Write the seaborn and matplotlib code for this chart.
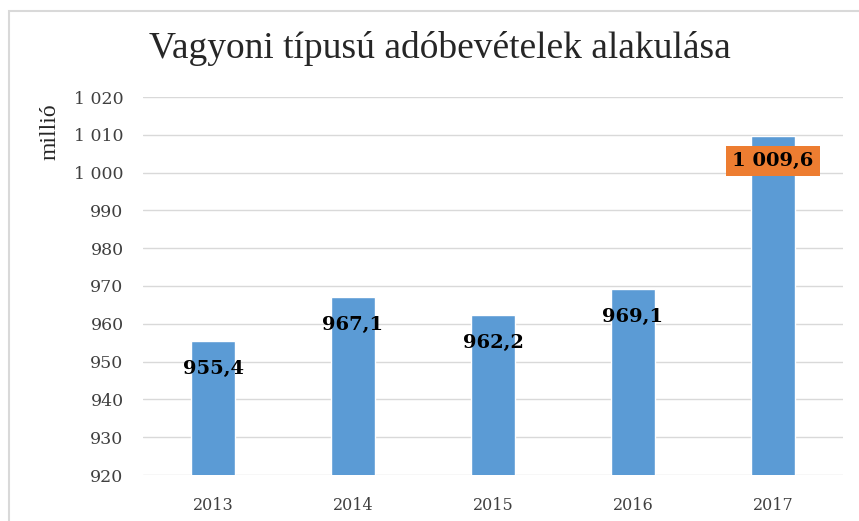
import matplotlib
matplotlib.use("Agg")
import matplotlib.pyplot as plt
import seaborn as sns
import pandas as pd
from matplotlib.patches import Rectangle

# data
years = ["2013", "2014", "2015", "2016", "2017"]
values = [955.4, 967.1, 962.2, 969.1, 1009.6]
yticks = [920, 930, 940, 950, 960, 970, 980, 990, 1000, 1010, 1020]

df = pd.DataFrame({"ev": years, "ertek": values})

sns.set_style("white")
plt.rcParams["font.family"] = ["Liberation Serif", "DejaVu Serif"]

fig = plt.figure(figsize=(8.59, 5.21), dpi=100)
ax = fig.add_axes([143 / 859, 46 / 521, 700 / 859, 378 / 521])

# light frame around the chart
fig.patches.append(Rectangle((9 / 859, -0.05), 1.2, 1.05 - 11 / 521,
                             transform=fig.transFigure, fill=False,
                             edgecolor="#d9d9d9", linewidth=1.5))

sns.barplot(data=df, x="ev", y="ertek", color="#5b9bd5", width=0.31,
            saturation=1, ax=ax, zorder=3)

ax.set_ylim(920, 1020)
ax.set_yticks(yticks)
ax.set_yticklabels([f"{t:,}".replace(",", " ") for t in yticks],
                   fontsize=12.5, color="#404040", family="DejaVu Serif")
ax.set_xticks(range(len(years)))
ax.set_xticklabels(years, fontsize=11.5, color="#404040", family="DejaVu Serif")
ax.tick_params(axis="x", length=0, pad=16)
ax.tick_params(axis="y", length=0, pad=14)
ax.grid(axis="y", color="#d9d9d9", linewidth=1, zorder=0)
for s in ax.spines.values():
    s.set_visible(False)
ax.set_xlabel("")
ax.set_ylabel("")

# value labels, inside end
for i, v in enumerate(values):
    txt = f"{v:,.1f}".replace(",", " ").replace(".", ",")
    if i == len(values) - 1:
        ax.annotate(txt, (i, v), xytext=(0, -18), textcoords="offset points",
                    ha="center", va="center", fontsize=14, fontweight="bold",
                    family="DejaVu Serif", color="black", zorder=5,
                    bbox=dict(boxstyle="square,pad=0.3", fc="#ed7d31", ec="none"))
    else:
        ax.annotate(txt, (i, v), xytext=(0, -20), textcoords="offset points",
                    ha="center", va="center", fontsize=14, fontweight="bold",
                    family="DejaVu Serif", color="black", zorder=5)

fig.text(50 / 859, 1 - 132 / 521, "millió", rotation=90, fontsize=17,
         ha="center", va="center", color="#262626")
fig.text(440 / 859, 1 - 48 / 521, "Vagyoni típusú adóbevételek alakulása",
         fontsize=27, ha="center", va="center", color="#262626")

fig.savefig("out.png", dpi=100)
